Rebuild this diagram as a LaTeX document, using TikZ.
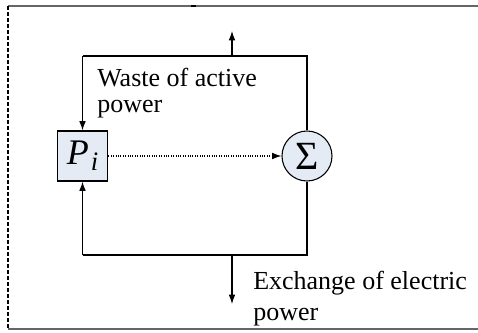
\documentclass[tikz,border=0pt]{standalone}
\usepackage{fontspec}
\setmainfont{Liberation Serif}
\usetikzlibrary{arrows.meta}
\definecolor{boxfill}{HTML}{E4EBF5}
\begin{document}
\begin{tikzpicture}[x=0.75pt,y=-0.75pt,
  conn/.style={line width=0.8pt,black},
  arr/.style={conn,-{Latex[length=7pt,width=5pt]}},
  frame/.style={line width=1.2pt,gray!80!black},
  lbl/.style={align=left,inner sep=0pt}]
\useasboundingbox (0,0) rectangle (478,332);
% outer frame
\draw[frame] (8,6) -- (478,6);
\draw[frame] (8,329) -- (478,329);
\draw[line width=1pt,black,dash pattern=on 3pt off 1.5pt] (8,6) -- (8,329);
\draw[line width=2pt,black] (191,6) -- (196,6);
% blocks
\node[draw,line width=0.8pt,fill=boxfill,minimum width=38pt,minimum height=37.5pt,inner sep=0pt] (P) at (82.5,156) {\fontsize{27}{30}\selectfont\textit{P}\kern1.5pt\raisebox{-0.35ex}{\fontsize{20}{20}\selectfont\textit{i}}};
\node[draw,circle,line width=0.8pt,fill=boxfill,minimum size=37.5pt,inner sep=0pt] (S) at (307,156) {\fontsize{30}{30}\selectfont Σ};
% loop corners
\coordinate (tl) at (P.north |- 0,56);
\coordinate (tr) at (S.north |- 0,56);
\coordinate (bl) at (P.south |- 0,255);
\coordinate (br) at (S.south |- 0,255);
\coordinate (tm) at (232,56);
\coordinate (bm) at (232,255);
\coordinate (up) at (232,31);
\coordinate (dn) at (232,304);
\draw[conn] (S.north) -- (tr) -- (tl);
\draw[arr] (tl) -- (P.north);
\draw[conn] (S.south) -- (br) -- (bl);
\draw[arr] (bl) -- (P.south);
\draw[arr] (tm) -- (up);
\draw[arr] (bm) -- (dn);
\draw[arr,densely dotted] (P.east) -- (S.west);
% labels
\node[lbl,anchor=base west,font=\fontsize{19.5}{19}\selectfont] (w1) at (97,112) {Waste of active\\power};
\node[lbl,anchor=base west,font=\fontsize{19.5}{23}\selectfont] (e1) at (253,320) {Exchange of electric\\power};
\end{tikzpicture}
\end{document}
